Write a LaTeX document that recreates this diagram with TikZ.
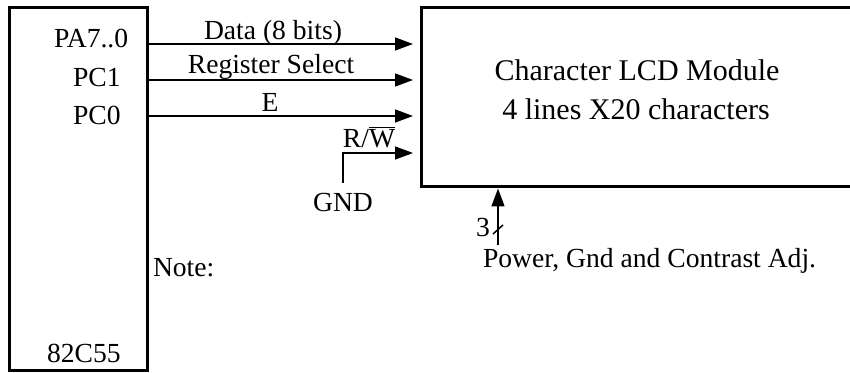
\documentclass[tikz,border=0pt]{standalone}
\usepackage{fontspec}
\setmainfont{Liberation Serif}
\usetikzlibrary{arrows.meta}
\begin{document}
\begin{tikzpicture}[x=0.5pt,y=-0.5pt,
  every node/.style={font=\fontsize{13.8}{16}\selectfont, inner sep=0pt, outer sep=0pt},
  boxframe/.style={draw, line width=1.5pt, inner sep=0pt},
  sig/.style={line width=0.75pt, -{Triangle[length=9pt,width=6.5pt]}},
  lbl/.style={anchor=base},
  boxtext/.style={font=\fontsize{15}{17}\selectfont, anchor=base}]
\useasboundingbox (0,0) rectangle (850,373);
\begin{scope}
\clip (0,0) rectangle (850,373);
% boxes
\node[boxframe, minimum width=69pt, minimum height=181pt] (ppi) at (78,189) {};
\node[boxframe, minimum width=217pt, minimum height=89.5pt] (lcd) at (638,97.5) {};
\end{scope}
% left box labels
\node[anchor=base west] (pa) at (54,48) {PA7..0};
\node[anchor=base west] (pc1) at (73,87) {PC1};
\node[anchor=base west] (pc0) at (73,125) {PC0};
\node[anchor=base west] (chip) at (47,362) {82C55};
\node[anchor=base west] (note) at (153,277) {Note:};
% lcd text
\node[boxtext] (t1) at (637,81) {Character LCD Module};
\node[boxtext] (t2) at (636,120) {4 lines X20 characters};
% signal endpoints
\coordinate (s1) at (149,44);  \coordinate (e1) at (413,44);
\coordinate (s2) at (148,80);  \coordinate (e2) at (413,80);
\coordinate (s3) at (148,116); \coordinate (e3) at (413,116);
\coordinate (e4) at (413,153);
\draw[sig] (s1) -- (e1);
\draw[sig] (s2) -- (e2);
\draw[sig] (s3) -- (e3);
\node[lbl] (l1) at (273,40) {Data (8 bits)};
\node[lbl] (l2) at (271,74) {Register Select};
\node[lbl] (l3) at (270,112) {E};
\node[lbl] (l4) at (369,148) {R/$\overline{\mbox{W}}$};
% GND
\node[lbl] (gnd) at (343,212) {GND};
\coordinate (g0) at (343,183);
\draw[sig] (g0) |- (e4);
% power
\coordinate (p0) at (498,245);
\coordinate (p1) at (498,188.5);
\draw[sig] (p0) -- (p1);
\coordinate (sl0) at (493,234); \coordinate (sl1) at (503,225);
\draw[line width=0.75pt] (sl0) -- (sl1);
\node[anchor=base east] (three) at (490,237) {3};
\node[anchor=base west] (pwr) at (483,268) {Power, Gnd and Contrast Adj.};
\end{tikzpicture}
\end{document}
